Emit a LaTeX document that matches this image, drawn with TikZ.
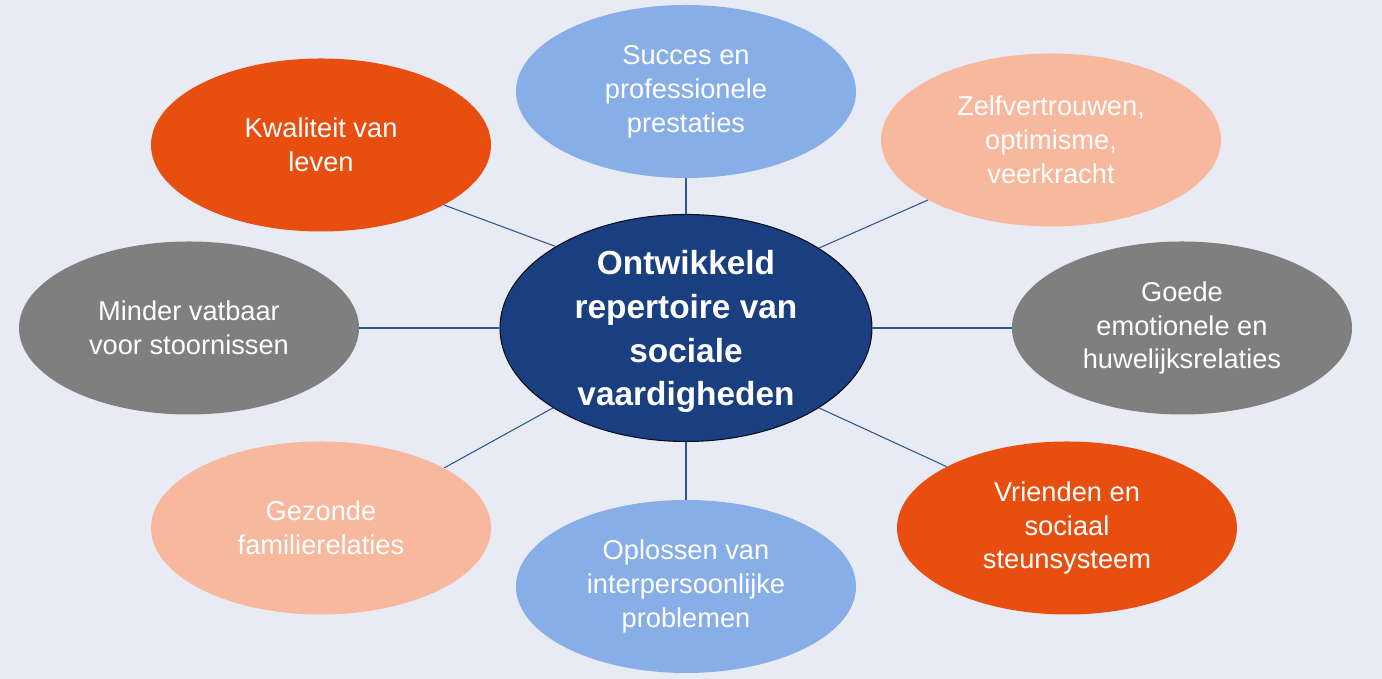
\documentclass[tikz,border=0pt]{standalone}
\usepackage{fontspec}
\setmainfont{Liberation Sans}
\definecolor{bg}{HTML}{E8EBF3}
\definecolor{hubblue}{HTML}{1A3F80}
\definecolor{linkblue}{HTML}{2E5597}
\definecolor{orange}{HTML}{E84E0F}
\definecolor{skyblue}{HTML}{88AEE8}
\definecolor{peach}{HTML}{F8B89D}
\definecolor{midgrey}{HTML}{7F7F7F}
\usetikzlibrary{shapes.geometric}
\begin{document}
\begin{tikzpicture}[
  bubble/.style={ellipse,minimum width=6.8cm,minimum height=3.46cm,inner sep=0pt,
    text=white,align=center,font=\fontsize{15.5}{19.3}\selectfont},
  hub/.style={ellipse,minimum width=7.44cm,minimum height=4.54cm,inner sep=0pt,
    fill=hubblue,draw=black!80!hubblue,line width=0.6pt},
  hubtext/.style={text=white,align=center,font=\fontsize{19}{25}\selectfont\bfseries},
  link/.style={draw=linkblue,line width=0.6pt}]
\fill[bg] (0,0) rectangle (27.64,13.58);
\useasboundingbox (0,0) rectangle (27.64,13.58);

\node[hub] (c) at (13.72,7.02) {};
\node[hubtext] (ct) at ([yshift=-2pt]c.center) {Ontwikkeld\\repertoire van\\sociale\\vaardigheden};

\node[bubble,fill=skyblue] (t) at (13.72,11.75) {Succes en\\professionele\\prestaties};
\node[bubble,fill=orange] (tl) at (6.42,10.68) {Kwaliteit van\\leven};
\node[bubble,fill=peach] (tr) at (21.02,10.78) {Zelfvertrouwen,\\optimisme,\\veerkracht};
\node[bubble,fill=midgrey] (l) at (3.78,7.02) {Minder vatbaar\\voor stoornissen};
\node[bubble,fill=midgrey] (r) at (23.64,7.02) {Goede\\emotionele en\\huwelijksrelaties};
\node[bubble,fill=peach] (bl) at (6.42,3.02) {Gezonde\\familierelaties};
\node[bubble,fill=skyblue] (b) at (13.72,1.85) {Oplossen van\\interpersoonlijke\\problemen};
\node[bubble,fill=orange] (br) at (21.34,3.02) {Vrienden en\\sociaal\\steunsysteem};

\draw[link] (c.north) -- (t.south);
\draw[link] (c.south) -- (b.north);
\draw[link] (c.west) -- (l.east);
\draw[link] (c.east) -- (r.west);
\draw[link] (c.148.7) -- (tl.-26.6);
\draw[link] (c.31.3) -- (tr.206.6);
\draw[link] (c.211.3) -- (bl.26.6);
\draw[link] (c.-31.3) -- (br.153.4);
\end{tikzpicture}
\end{document}
